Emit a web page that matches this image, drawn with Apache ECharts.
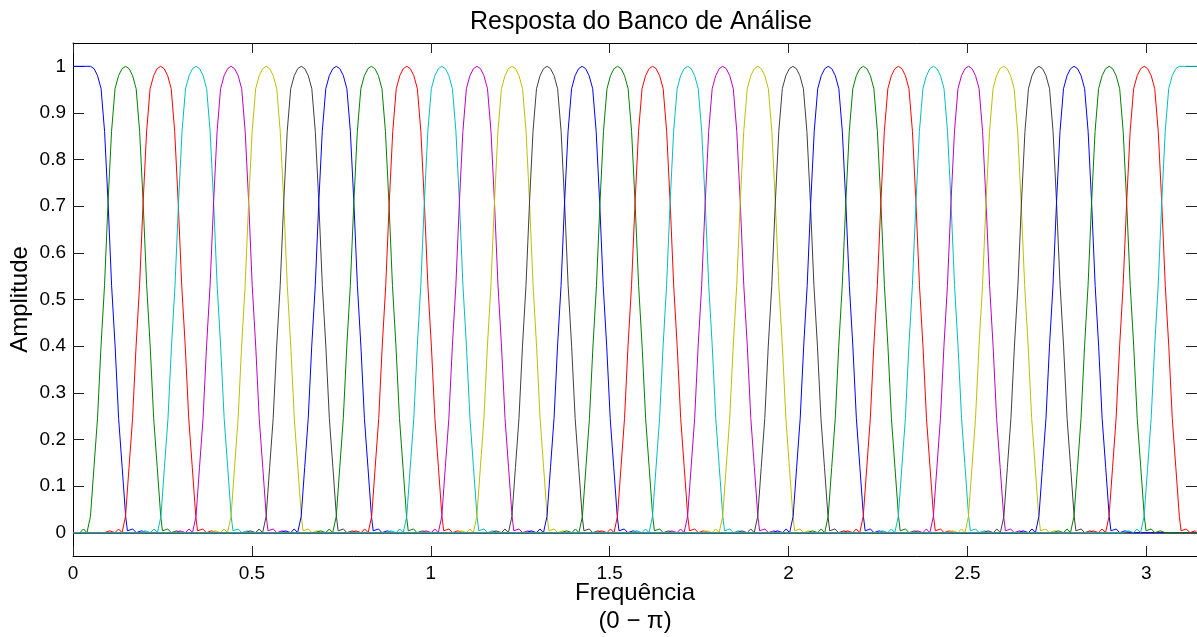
<!DOCTYPE html>
<html>
<head>
<meta charset="utf-8">
<script src="https://cdn.jsdelivr.net/npm/echarts@6/dist/echarts.min.js"></script>
<style>
  html, body { margin: 0; padding: 0; background: #fff; }
  #chart { width: 1197px; height: 637px; }
</style>
</head>
<body>
<div id="chart"></div>
<script>
// centre frequency of each of the 32 analysis bands
const bandCenters = [
  0.049, 0.147, 0.245, 0.344, 0.442, 0.540, 0.638, 0.736,
  0.834, 0.933, 1.031, 1.129, 1.227, 1.325, 1.423, 1.522,
  1.620, 1.718, 1.816, 1.914, 2.012, 2.111, 2.209, 2.307,
  2.405, 2.503, 2.601, 2.700, 2.798, 2.896, 2.994, 3.092
];
// matlab colour order b g r c m y k
const bandColors = ["#0000ff", "#008000", "#ff0000", "#00bfbf", "#bf00bf", "#bfbf00", "#404040"];

// one band's magnitude: distance from centre -> amplitude
const profileOffsets = [0, 0.0098, 0.0196, 0.0295, 0.0393, 0.0491, 0.0589, 0.0687, 0.0785, 0.0884, 0.0982, 0.1031, 0.1080, 0.1178, 0.1276, 0.1424, 0.1571];
const profileAmps    = [1.0, 0.995, 0.98, 0.952, 0.86, 0.707, 0.53, 0.40, 0.245, 0.14, 0.035, 0.004, 0.0, 0.008, 0.0, 0.004, 0.0];

const xTicks = [0, 0.5, 1, 1.5, 2, 2.5, 3];
const yTicks = [0, 0.1, 0.2, 0.3, 0.4, 0.5, 0.6, 0.7, 0.8, 0.9, 1];
const X_MAX = Math.PI;

const FONT = "Liberation Sans, Arial, sans-serif";

function bandData(i) {
  const c = bandCenters[i];
  const last = bandCenters.length - 1;
  const pts = [];
  pts.push([0, i === 0 ? 1 : 0]);
  if (i !== 0) {
    for (let j = profileOffsets.length - 1; j > 0; j--) {
      pts.push([c - profileOffsets[j], profileAmps[j]]);
    }
  }
  pts.push([c, profileAmps[0]]);
  if (i !== last) {
    for (let j = 1; j < profileOffsets.length; j++) {
      pts.push([c + profileOffsets[j], profileAmps[j]]);
    }
  }
  pts.push([X_MAX, i === last ? 1 : 0]);
  return pts.filter((p) => p[0] >= 0 && p[0] <= X_MAX);
}

const series = bandCenters.map((c, i) => ({
  name: "banda " + (i + 1),
  type: "line",
  data: bandData(i),
  showSymbol: false,
  symbol: "none",
  lineStyle: { width: 1, color: bandColors[i % bandColors.length] },
  itemStyle: { color: bandColors[i % bandColors.length] },
  emphasis: { disabled: true },
  xAxisIndex: 0,
  yAxisIndex: 0,
}));

// box axes: never snap to zero
const axisLine = { show: true, onZero: false, lineStyle: { color: "#000", width: 1 } };
const tickStyle = { color: "#222", width: 1 };

const chart = echarts.init(document.getElementById("chart"));
chart.setOption({
  animation: false,
  textStyle: { fontFamily: FONT },
  title: {
    text: "Resposta do Banco de Análise",
    left: 465, // centred over the plot box, not the page
    top: 5,
    textStyle: { fontFamily: FONT, fontSize: 25, fontWeight: "normal", color: "#000" },
  },
  grid: { left: 73, right: 0, top: 43, bottom: 81, containLabel: false, outerBoundsMode: "none" },
  xAxis: [
    {
      type: "value",
      min: 0,
      max: X_MAX,
      position: "bottom",
      axisLine,
      axisTick: { show: true, inside: true, length: 10, customValues: xTicks, lineStyle: tickStyle },
      axisLabel: {
        show: true,
        customValues: xTicks,
        formatter: (v) => String(v),
        color: "#000",
        fontFamily: FONT,
        fontSize: 19,
        margin: 8,
      },
      splitLine: { show: false },
      name: "Frequência\n(0 − π)",
      nameLocation: "middle",
      nameGap: 23,
      nameMoveOverlap: false,
      nameTextStyle: { fontFamily: FONT, fontSize: 24, lineHeight: 28, color: "#000", verticalAlign: "top" },
    },
    {
      type: "value",
      min: 0,
      max: X_MAX,
      position: "top",
      axisLine,
      axisTick: { show: true, inside: true, length: 10, customValues: xTicks, lineStyle: tickStyle },
      axisLabel: { show: false },
      splitLine: { show: false },
    },
  ],
  yAxis: [
    {
      type: "value",
      min: -0.05,
      max: 1.05,
      position: "left",
      axisLine,
      axisTick: { show: true, inside: true, length: 11, customValues: yTicks, lineStyle: tickStyle },
      axisLabel: {
        show: true,
        customValues: yTicks,
        formatter: (v) => String(Math.round(v * 10) / 10),
        color: "#000",
        fontFamily: FONT,
        fontSize: 19,
        margin: 7,
      },
      splitLine: { show: false },
      name: "Amplitude",
      nameLocation: "middle",
      nameGap: 41,
      nameMoveOverlap: false,
      nameTextStyle: { fontFamily: FONT, fontSize: 24, color: "#000" },
    },
    {
      type: "value",
      min: -0.05,
      max: 1.05,
      position: "right",
      axisLine,
      axisTick: { show: true, inside: true, length: 11, customValues: yTicks, lineStyle: tickStyle },
      axisLabel: { show: false },
      splitLine: { show: false },
    },
  ],
  series,
});
</script>
</body>
</html>
